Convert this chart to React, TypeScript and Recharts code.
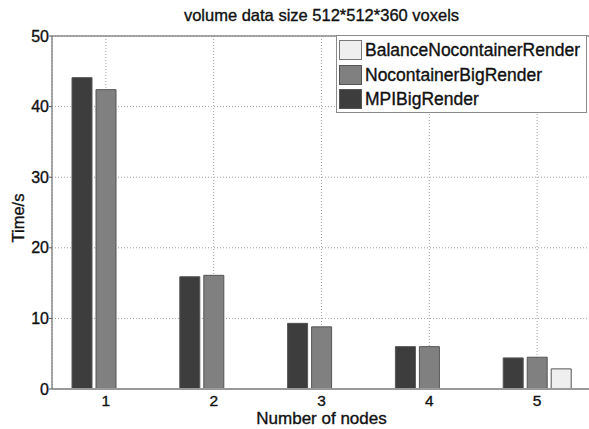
import React from 'react'
import { BarChart, Bar, XAxis, YAxis, CartesianGrid, Legend, ReferenceLine } from 'recharts'

const nodes = ['1', '2', '3', '4', '5']
const mpiBigRender = [44.1, 15.9, 9.3, 6.0, 4.4]
const nocontainerBigRender = [42.4, 16.1, 8.8, 6.0, 4.5]
const balanceNocontainerRender: Array<number | null> = [null, null, null, null, 2.85]
const yTicks = [0, 10, 20, 30, 40, 50]

const FONT = '"Liberation Sans", Arial, Helvetica, sans-serif'
const TEXT_STROKE = '0.35px #111'

const data = nodes.map((n, i) => ({
  node: n,
  mpi: mpiBigRender[i],
  noc: nocontainerBigRender[i],
  bal: balanceNocontainerRender[i],
}))

// legend order is reversed compared to the bars, like the original figure
const legendItems = [
  { name: 'BalanceNocontainerRender', fill: '#efefef', stroke: '#777' },
  { name: 'NocontainerBigRender', fill: '#808080', stroke: '#555' },
  { name: 'MPIBigRender', fill: '#3d3d3d', stroke: '#555' },
]

const renderLegend = () => (
  <div
    style={{
      width: 251,
      height: 78,
      boxSizing: 'border-box',
      background: '#fff',
      border: '1.5px solid #8a8a8a',
      paddingTop: 2,
      paddingLeft: 2,
      fontFamily: FONT,
      fontSize: 17.5,
      color: '#111',
      WebkitTextStroke: TEXT_STROKE,
    }}
  >
    {legendItems.map((it) => (
      <div key={it.name} style={{ display: 'flex', alignItems: 'center', height: 24.5 }}>
        <div
          style={{
            width: 23,
            height: 20,
            boxSizing: 'border-box',
            background: it.fill,
            border: `1.5px solid ${it.stroke}`,
            marginRight: 3,
          }}
        />
        <span style={{ lineHeight: '20px' }}>{it.name}</span>
      </div>
    ))}
  </div>
)

const yTickStyle = { fontSize: 16, fill: '#111', fontFamily: FONT, stroke: '#111', strokeWidth: 0.35 }
const xTickStyle = { ...yTickStyle, fontSize: 15.5 }

export default function App() {
  return (
    <div style={{ position: 'absolute', left: 0, top: 0, width: 589, height: 429, overflow: 'hidden', background: '#fff' }}>
      <BarChart
        width={591}
        height={429}
        data={data}
        margin={{ top: 36, right: 0, left: 0, bottom: 0 }}
        barSize={20}
        barGap={4}
      >
        <CartesianGrid stroke="#a0a0a0" strokeDasharray="1 2" />
        <XAxis
          dataKey="node"
          height={40}
          tickLine={false}
          tickSize={0}
          tickMargin={6}
          axisLine={{ stroke: '#999', strokeWidth: 2 }}
          tick={xTickStyle}
        />
        <YAxis
          width={52}
          domain={[0, 50]}
          ticks={yTicks}
          tickSize={3}
          tickMargin={0}
          axisLine={{ stroke: '#8a8a8a', strokeWidth: 1.5 }}
          tickLine={{ stroke: '#555' }}
          tick={yTickStyle}
        />
        <ReferenceLine y={50} stroke="#8a8a8a" strokeWidth={1.5} />
        <Bar dataKey="mpi" name="MPIBigRender" fill="#3d3d3d" stroke="#555" strokeWidth={1} isAnimationActive={false} />
        <Bar dataKey="noc" name="NocontainerBigRender" fill="#808080" stroke="#555" strokeWidth={1} isAnimationActive={false} />
        <Bar dataKey="bal" name="BalanceNocontainerRender" fill="#efefef" stroke="#555" strokeWidth={1} isAnimationActive={false} />
        <Legend
          content={renderLegend}
          layout="vertical"
          align="center"
          verticalAlign="middle"
          wrapperStyle={{ position: 'absolute', top: 35, left: 336, width: 251 }}
        />
      </BarChart>
      <div
        style={{
          position: 'absolute',
          top: 6,
          left: 52,
          width: 539,
          textAlign: 'center',
          fontFamily: FONT,
          fontSize: 16.5,
          color: '#111',
          WebkitTextStroke: TEXT_STROKE,
        }}
      >
        volume data size 512*512*360 voxels
      </div>
      <div
        style={{
          position: 'absolute',
          top: 412,
          left: 52,
          width: 539,
          textAlign: 'center',
          fontFamily: FONT,
          fontSize: 17,
          lineHeight: '13px',
          color: '#111',
          WebkitTextStroke: TEXT_STROKE,
        }}
      >
        Number of nodes
      </div>
      <div
        style={{
          position: 'absolute',
          left: 18,
          top: 218,
          transform: 'translate(-50%, -50%) rotate(-90deg)',
          fontFamily: FONT,
          fontSize: 16.5,
          color: '#111',
          whiteSpace: 'nowrap',
          WebkitTextStroke: TEXT_STROKE,
        }}
      >
        Time/s
      </div>
    </div>
  )
}
